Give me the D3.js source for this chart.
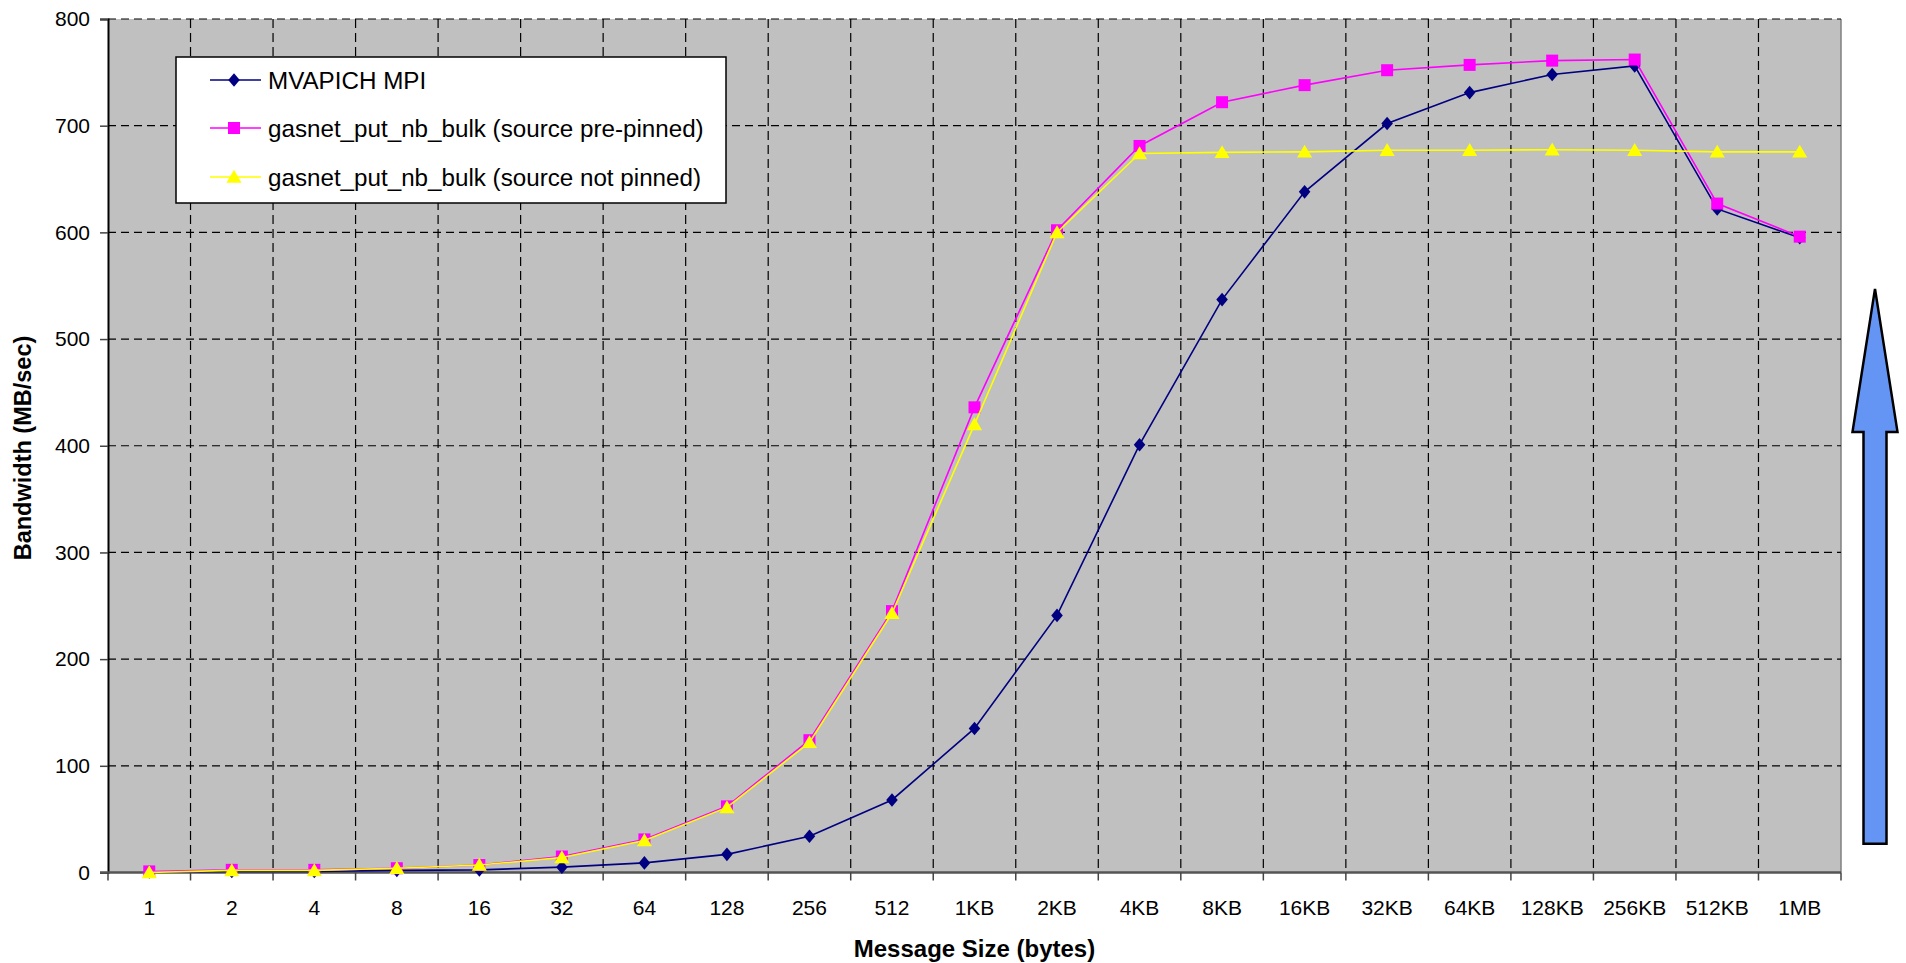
<!DOCTYPE html>
<html>
<head>
<meta charset="utf-8">
<script src="https://cdn.jsdelivr.net/npm/d3@7"></script>
<style>
  html, body { margin: 0; padding: 0; background: #fff; }
  svg { display: block; font-family: Arial, "Liberation Sans", sans-serif; }
</style>
</head>
<body>
<svg id="chart" width="1906" height="963"></svg>
<script>
// Message sizes on the x axis
const categories = ["1", "2", "4", "8", "16", "32", "64", "128", "256", "512",
  "1KB", "2KB", "4KB", "8KB", "16KB", "32KB", "64KB", "128KB", "256KB", "512KB", "1MB"];

// Bandwidth (MB/sec) per message size
const mvapichMPI = [0.5, 1, 1, 2, 2.5, 5, 9, 17, 34, 68, 135, 241, 401, 537, 638, 702, 731, 748, 756, 622, 595];
const putPrePinned = [1, 2.5, 2.5, 4, 7, 15, 31, 62, 124, 245, 436, 602, 681, 722, 738, 752, 757, 761, 762, 627, 596];
const putNotPinned = [0, 2, 2, 4, 7, 14, 30, 61, 122, 243, 420, 600, 674, 675, 675.5, 677, 677, 677.5, 677, 675.5, 675.5];

const yTicks = [0, 100, 200, 300, 400, 500, 600, 700, 800];

const seriesNames = ["MVAPICH MPI", "gasnet_put_nb_bulk (source pre-pinned)", "gasnet_put_nb_bulk (source not pinned)"];

const svg = d3.select("#chart");
const plot = { left: 108, right: 1841, top: 19, bottom: 872.5 };

const x = d3.scaleBand().domain(categories).range([plot.left, plot.right]).padding(0);
const y = d3.scaleLinear().domain([0, 800]).range([plot.bottom, plot.top]);

// plot background
svg.append("rect")
  .attr("x", plot.left).attr("y", plot.top)
  .attr("width", plot.right - plot.left).attr("height", plot.bottom - plot.top)
  .attr("fill", "#c0c0c0");

// right edge of the plot area
svg.append("line")
  .attr("x1", plot.right).attr("x2", plot.right)
  .attr("y1", plot.top).attr("y2", plot.bottom)
  .attr("stroke", "#808080").attr("stroke-width", 1.5);

// horizontal dashed gridlines
svg.append("g").selectAll("line")
  .data(yTicks.filter(d => d > 0))
  .join("line")
  .attr("x1", plot.left).attr("x2", plot.right)
  .attr("y1", d => y(d)).attr("y2", d => y(d))
  .attr("stroke", "#000").attr("stroke-width", 1.2)
  .attr("stroke-dasharray", "8,5");

// vertical dashed gridlines at category boundaries
const bounds = categories.slice(1).map(c => x(c));
svg.append("g").selectAll("line")
  .data(bounds)
  .join("line")
  .attr("x1", d => d).attr("x2", d => d)
  .attr("y1", plot.top).attr("y2", plot.bottom)
  .attr("stroke", "#000").attr("stroke-width", 1.2)
  .attr("stroke-dasharray", "9,5");

// y axis
const yAxis = svg.append("g")
  .attr("transform", `translate(${plot.left},0)`)
  .call(d3.axisLeft(y).tickValues(yTicks).tickSize(8).tickPadding(10).tickFormat(d3.format("d")));
yAxis.select(".domain").attr("stroke", "#000").attr("stroke-width", 2);
yAxis.selectAll(".tick line").attr("stroke", "#444").attr("stroke-width", 1.5);
yAxis.selectAll(".tick text")
  .attr("font-size", 21).attr("fill", "#000")
  .attr("font-family", "Arial, 'Liberation Sans', sans-serif");

// x axis: ticks at category boundaries, labels at category centres
const xAxisG = svg.append("g").attr("transform", `translate(0,${plot.bottom})`);
xAxisG.append("line")
  .attr("x1", plot.left - 8).attr("x2", plot.right)
  .attr("y1", 0).attr("y2", 0)
  .attr("stroke", "#555").attr("stroke-width", 2.5);
xAxisG.selectAll("line.tick")
  .data([plot.left, ...bounds, plot.right])
  .join("line").attr("class", "tick")
  .attr("x1", d => d).attr("x2", d => d)
  .attr("y1", 0).attr("y2", 8)
  .attr("stroke", "#444").attr("stroke-width", 1.5);
xAxisG.selectAll("text")
  .data(categories)
  .join("text")
  .attr("x", d => x(d) + x.bandwidth() / 2)
  .attr("y", 42)
  .attr("text-anchor", "middle")
  .attr("font-size", 21)
  .attr("fill", "#000")
  .text(d => d);

// axis titles
svg.append("text")
  .attr("x", (plot.left + plot.right) / 2 + 0).attr("y", 957)
  .attr("text-anchor", "middle")
  .attr("font-size", 24).attr("font-weight", "bold")
  .text("Message Size (bytes)");

svg.append("text")
  .attr("transform", `translate(31,448) rotate(-90)`)
  .attr("text-anchor", "middle")
  .attr("font-size", 23.5).attr("font-weight", "bold")
  .text("Bandwidth (MB/sec)");

// marker shapes
const diamond = s => `M0,${-s}L${s * 0.85},0L0,${s}L${-s * 0.85},0Z`;
const square = s => `M${-s},${-s}H${s}V${s}H${-s}Z`;
const triangle = s => `M0,${-s * 1.0}L${s * 1.05},${s * 0.8}L${-s * 1.05},${s * 0.8}Z`;

const series = [
  { name: seriesNames[0], values: mvapichMPI, color: "#000080", line: "#000080", marker: diamond(6.8) },
  { name: seriesNames[1], values: putPrePinned, color: "#ff00ff", line: "#ff00ff", marker: square(6) },
  { name: seriesNames[2], values: putNotPinned, color: "#ffff00", line: "#ffff00", marker: triangle(7.2) }
];

const lineGen = d3.line()
  .x((d, i) => x(categories[i]) + x.bandwidth() / 2)
  .y(d => y(d));

series.forEach(s => {
  const g = svg.append("g");
  g.append("path")
    .datum(s.values)
    .attr("d", lineGen)
    .attr("fill", "none")
    .attr("stroke", s.line)
    .attr("stroke-width", 1.6);
  g.selectAll("path.m")
    .data(s.values)
    .join("path").attr("class", "m")
    .attr("transform", (d, i) => `translate(${x(categories[i]) + x.bandwidth() / 2},${y(d)})`)
    .attr("d", s.marker)
    .attr("fill", s.color);
});

// legend
const legend = svg.append("g");
legend.append("rect")
  .attr("x", 176).attr("y", 57)
  .attr("width", 550).attr("height", 146)
  .attr("fill", "#fff").attr("stroke", "#000").attr("stroke-width", 1.5);
const rowY = [80, 128, 177];
series.forEach((s, i) => {
  const ry = rowY[i];
  legend.append("line")
    .attr("x1", 210).attr("x2", 261).attr("y1", ry).attr("y2", ry)
    .attr("stroke", s.line).attr("stroke-width", 1.6);
  legend.append("path")
    .attr("transform", `translate(234,${ry})`)
    .attr("d", s.marker).attr("fill", s.color);
  legend.append("text")
    .attr("x", 268).attr("y", ry + 8.5)
    .attr("font-size", 24.2).attr("fill", "#000")
    .text(s.name);
});

// upward arrow beside the plot
const ax = 1875;
const arrowTip = y(547), headBase = y(413), arrowFoot = y(27);
const arrowPts = [
  [ax, arrowTip], [ax + 22.5, headBase], [ax + 11.5, headBase], [ax + 11.5, arrowFoot],
  [ax - 11.5, arrowFoot], [ax - 11.5, headBase], [ax - 22.5, headBase]
];
svg.append("path")
  .attr("d", d3.line()(arrowPts) + "Z")
  .attr("fill", "#6495f5")
  .attr("stroke", "#000")
  .attr("stroke-width", 2.5)
  .attr("stroke-linejoin", "miter");
</script>
</body>
</html>
